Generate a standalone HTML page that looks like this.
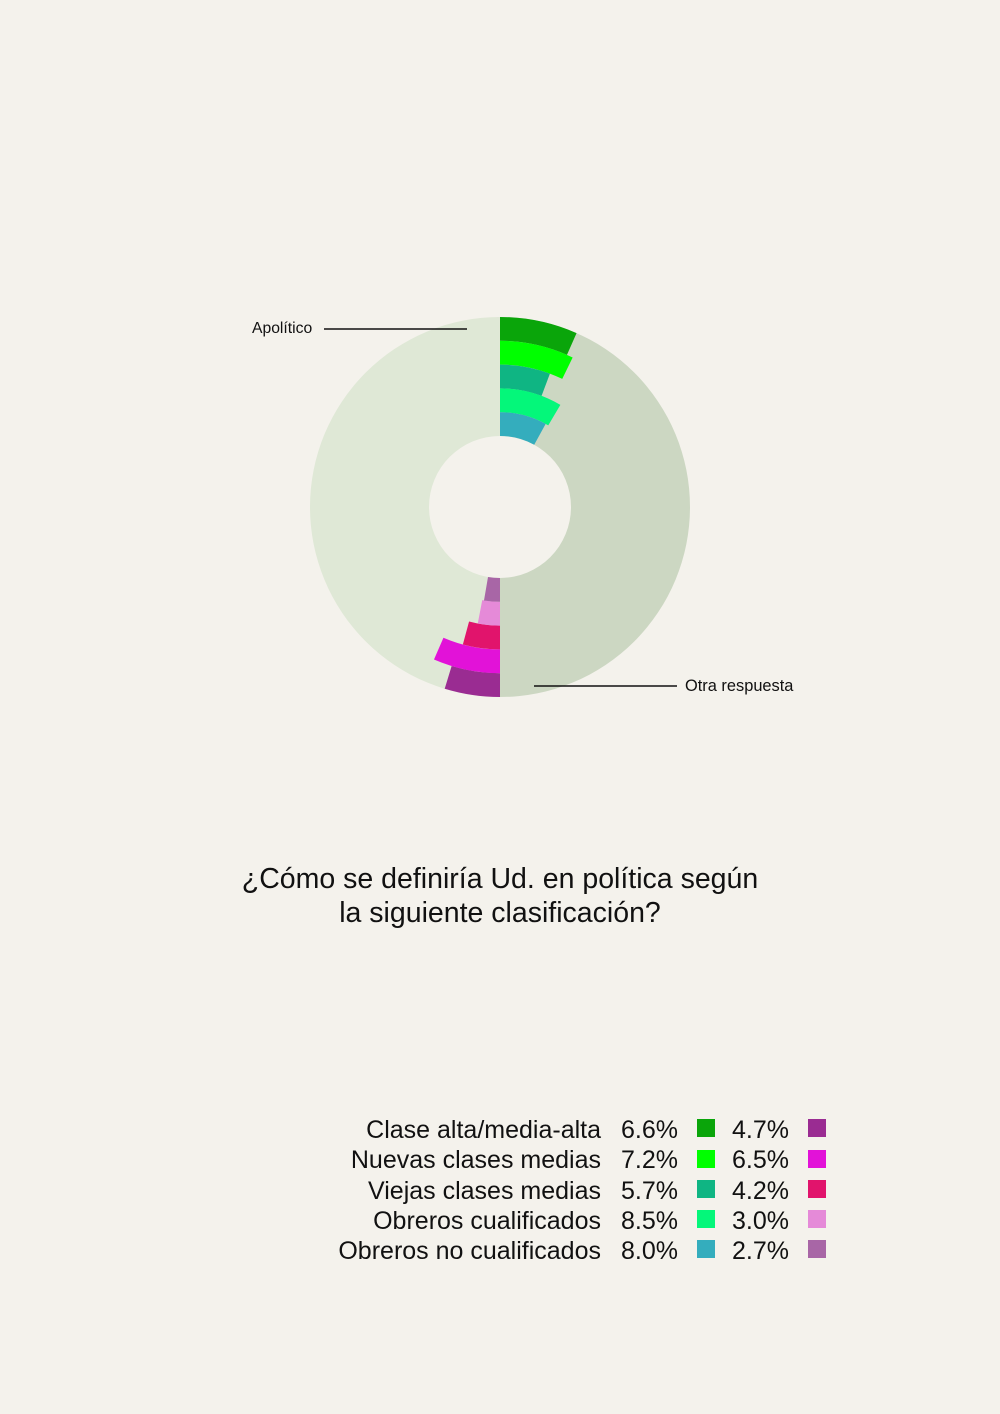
<!DOCTYPE html>
<html><head><meta charset="utf-8"><style>
html,body{margin:0;padding:0}
body{width:1000px;height:1414px;background:#f4f2ec;font-family:"Liberation Sans",sans-serif;position:relative;overflow:hidden;color:#111}
.t{position:absolute}
.leg{position:absolute;font-size:25px;line-height:30.3px}
.sw{position:absolute;width:18px;height:18px}
</style></head><body>
<svg id="s" width="1000" height="1414" style="position:absolute;left:0;top:0">
<line x1="324" y1="329" x2="467" y2="329" stroke="#111" stroke-width="1.5"/>
<line x1="534" y1="686" x2="677" y2="686" stroke="#111" stroke-width="1.5"/>
</svg>
<div class="t" style="left:252px;top:320px;font-size:15.7px">Apolítico</div>
<div class="t" style="left:685px;top:677px;font-size:16.4px">Otra respuesta</div>
<div class="t" style="left:0;width:1000px;top:862px;font-size:28.5px;text-align:center;line-height:34px">¿Cómo se definiría Ud. en política según<br>la siguiente clasificación?</div>
<div class="leg" style="right:399px;top:1115px;text-align:right">Clase alta/media-alta<br>Nuevas clases medias<br>Viejas clases medias<br>Obreros cualificados<br>Obreros no cualificados</div>
<div class="leg" style="left:621px;top:1115px">6.6%<br>7.2%<br>5.7%<br>8.5%<br>8.0%</div>
<div class="leg" style="left:732px;top:1115px">4.7%<br>6.5%<br>4.2%<br>3.0%<br>2.7%</div>
<div class="sw" style="left:697px;top:1119px;background:#0aa50a"></div>
<div class="sw" style="left:697px;top:1150px;background:#00ff00"></div>
<div class="sw" style="left:697px;top:1180px;background:#0fb583"></div>
<div class="sw" style="left:697px;top:1210px;background:#04f77a"></div>
<div class="sw" style="left:697px;top:1240px;background:#34adbd"></div>
<div class="sw" style="left:808px;top:1119px;background:#9a2c92"></div>
<div class="sw" style="left:808px;top:1150px;background:#e212d8"></div>
<div class="sw" style="left:808px;top:1180px;background:#e1146c"></div>
<div class="sw" style="left:808px;top:1210px;background:#e58ad8"></div>
<div class="sw" style="left:808px;top:1240px;background:#a866a6"></div>
<script>
var cx=500,cy=507,R=190,r0=71,w=(R-r0)/5;
function pt(rad,a){var t=a*Math.PI/180;return [cx+rad*Math.sin(t),cy-rad*Math.cos(t)];}
function arc(r1,r2,a1,a2,col){
 var big=Math.abs(a2-a1)>180?1:0,sw=a2>a1?1:0;
 var p1=pt(r2,a1),p2=pt(r2,a2),p3=pt(r1,a2),p4=pt(r1,a1);
 return '<path fill="'+col+'" d="M'+p1+' A'+r2+','+r2+' 0 '+big+' '+sw+' '+p2+' L'+p3+' A'+r1+','+r1+' 0 '+big+' '+(1-sw)+' '+p4+' Z"/>';
}
var h='';
h+=arc(r0,R,180,359.99,'#dfe8d6');
h+=arc(r0,R,0,180,'#ccd7c2');
var g=[[6.6,'#0aa50a'],[7.2,'#00ff00'],[5.7,'#0fb583'],[8.5,'#04f77a'],[8.0,'#34adbd']];
var p=[[4.7,'#9a2c92'],[6.5,'#e212d8'],[4.2,'#e1146c'],[3.0,'#e58ad8'],[2.7,'#a866a6']];
for(var i=0;i<5;i++){
 var ro=R-i*w,ri=ro-w;
 h+=arc(ri,ro,0,g[i][0]*3.6,g[i][1]);
 h+=arc(ri,ro,180,180+p[i][0]*3.6,p[i][1]);
}
document.getElementById('s').insertAdjacentHTML('afterbegin',h);
</script>
</body></html>
